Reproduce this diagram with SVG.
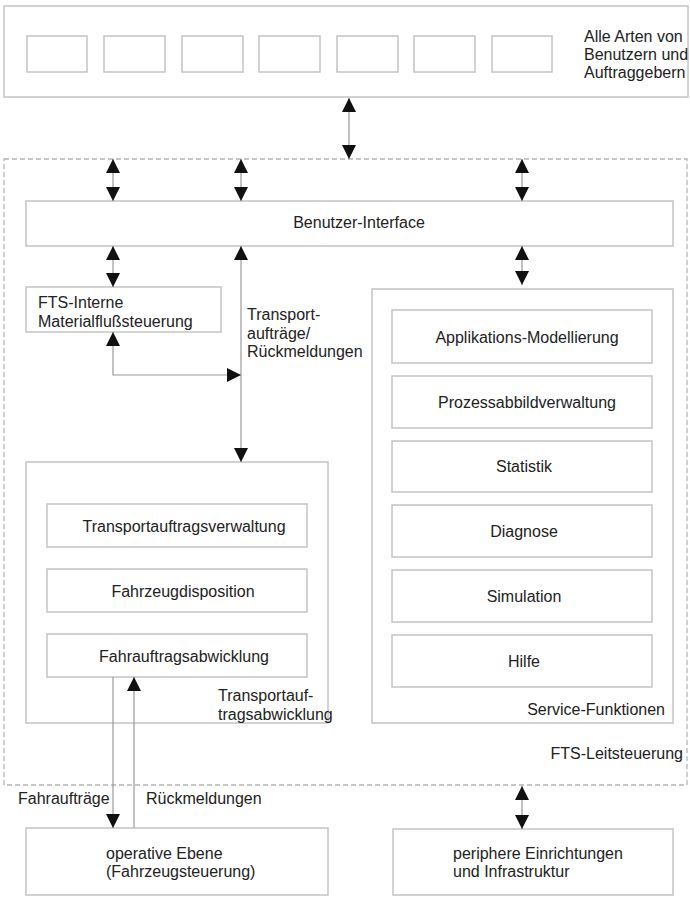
<svg xmlns="http://www.w3.org/2000/svg" width="690" height="897" viewBox="0 0 690 897">
<style>
  .box { fill: #ffffff; stroke: #c4c4c4; stroke-width: 1.5; }
  .dash { fill: none; stroke: #b4b4b4; stroke-width: 1.3; stroke-dasharray: 5 3; }
  .ln { fill: none; stroke: #9a9a9a; stroke-width: 1.2; }
  text { font-family: "Liberation Sans", Arial, sans-serif; font-size: 16px; fill: #222222; }
  .mid { text-anchor: middle; }
  .end { text-anchor: end; }
</style>
<defs>
  <marker id="ah" viewBox="0 0 14 14" refX="14" refY="7" markerWidth="14" markerHeight="14" markerUnits="userSpaceOnUse" orient="auto-start-reverse">
    <path d="M0,0 L14,7 L0,14 Z" fill="#111111"/>
  </marker>
</defs>
<rect width="690" height="897" fill="#ffffff"/>

<g id="benutzer-auftraggeber">
  <rect class="box" x="4" y="6" width="684" height="91"/>
  <rect class="box" x="27" y="36" width="60" height="36"/>
  <rect class="box" x="104" y="36" width="61" height="36"/>
  <rect class="box" x="182" y="36" width="61" height="36"/>
  <rect class="box" x="259" y="36" width="61" height="36"/>
  <rect class="box" x="337" y="36" width="61" height="36"/>
  <rect class="box" x="414" y="36" width="61" height="36"/>
  <rect class="box" x="492" y="36" width="60" height="36"/>
  <text x="584" y="42">Alle Arten von</text>
  <text x="584" y="60">Benutzern und</text>
  <text x="584" y="78">Auftraggebern</text>
</g>

<g id="fts-leitsteuerung">
  <rect class="dash" x="4" y="159" width="683" height="626"/>
  <text class="end" x="683" y="759">FTS-Leitsteuerung</text>
</g>

<g id="benutzer-interface">
  <rect class="box" x="26" y="201" width="647" height="45"/>
  <text class="mid" x="359" y="228">Benutzer-Interface</text>
</g>

<g id="fts-interne">
  <rect class="box" x="26" y="287" width="195" height="45"/>
  <text x="38" y="308">FTS-Interne</text>
  <text x="38" y="327">Materialflußsteuerung</text>
</g>

<g id="label-transportauftraege">
  <text x="247" y="320">Transport-</text>
  <text x="247" y="339">aufträge/</text>
  <text x="247" y="357">Rückmeldungen</text>
</g>

<g id="service-funktionen">
  <rect class="box" x="372" y="289" width="301" height="434"/>
  <text class="end" x="665" y="715">Service-Funktionen</text>
</g>
<g id="applikations-modellierung">
  <rect class="box" x="392" y="310" width="260" height="53"/>
  <text class="mid" x="527" y="343">Applikations-Modellierung</text>
</g>
<g id="prozessabbildverwaltung">
  <rect class="box" x="392" y="376" width="260" height="52"/>
  <text class="mid" x="527" y="408">Prozessabbildverwaltung</text>
</g>
<g id="statistik">
  <rect class="box" x="392" y="441" width="260" height="51"/>
  <text class="mid" x="524" y="472">Statistik</text>
</g>
<g id="diagnose">
  <rect class="box" x="392" y="505" width="260" height="52"/>
  <text class="mid" x="524" y="537">Diagnose</text>
</g>
<g id="simulation">
  <rect class="box" x="392" y="570" width="260" height="52"/>
  <text class="mid" x="524" y="602">Simulation</text>
</g>
<g id="hilfe">
  <rect class="box" x="392" y="635" width="260" height="52"/>
  <text class="mid" x="524" y="667">Hilfe</text>
</g>

<g id="transportauftragsabwicklung">
  <rect class="box" x="26" y="462" width="302" height="261"/>
  <text x="218" y="701">Transportauf-</text>
  <text x="218" y="720">tragsabwicklung</text>
</g>
<g id="transportauftragsverwaltung">
  <rect class="box" x="47" y="504" width="260" height="43"/>
  <text class="mid" x="184" y="532">Transportauftragsverwaltung</text>
</g>
<g id="fahrzeugdisposition">
  <rect class="box" x="47" y="569" width="260" height="43"/>
  <text class="mid" x="183" y="597">Fahrzeugdisposition</text>
</g>
<g id="fahrauftragsabwicklung">
  <rect class="box" x="47" y="634" width="260" height="43"/>
  <text class="mid" x="184" y="662">Fahrauftragsabwicklung</text>
</g>

<g id="operative-ebene">
  <rect class="box" x="26" y="828" width="302" height="67"/>
  <text x="106" y="859">operative Ebene</text>
  <text x="106" y="877">(Fahrzeugsteuerung)</text>
</g>
<g id="periphere-einrichtungen">
  <rect class="box" x="393" y="829" width="280" height="66"/>
  <text x="453" y="859">periphere Einrichtungen</text>
  <text x="453" y="877">und Infrastruktur</text>
</g>

<g id="connectors">
  <line class="ln" x1="349" y1="98" x2="349" y2="159" marker-start="url(#ah)" marker-end="url(#ah)"/>
  <line class="ln" x1="113" y1="159" x2="113" y2="201" marker-start="url(#ah)" marker-end="url(#ah)"/>
  <line class="ln" x1="241" y1="159" x2="241" y2="201" marker-start="url(#ah)" marker-end="url(#ah)"/>
  <line class="ln" x1="522" y1="159" x2="522" y2="201" marker-start="url(#ah)" marker-end="url(#ah)"/>
  <line class="ln" x1="113" y1="246" x2="113" y2="287" marker-start="url(#ah)" marker-end="url(#ah)"/>
  <line class="ln" x1="522" y1="246" x2="522" y2="285" marker-start="url(#ah)" marker-end="url(#ah)"/>
  <line class="ln" x1="241" y1="246" x2="241" y2="462" marker-start="url(#ah)" marker-end="url(#ah)"/>
  <polyline class="ln" points="113,332 113,375 241,375" marker-start="url(#ah)" marker-end="url(#ah)"/>
  <line class="ln" x1="113" y1="677" x2="113" y2="828" marker-end="url(#ah)"/>
  <line class="ln" x1="134" y1="828" x2="134" y2="677" marker-end="url(#ah)"/>
  <line class="ln" x1="522" y1="786" x2="522" y2="829" marker-start="url(#ah)" marker-end="url(#ah)"/>
  <text x="18" y="804">Fahraufträge</text>
  <text x="146" y="804">Rückmeldungen</text>
</g>
</svg>
